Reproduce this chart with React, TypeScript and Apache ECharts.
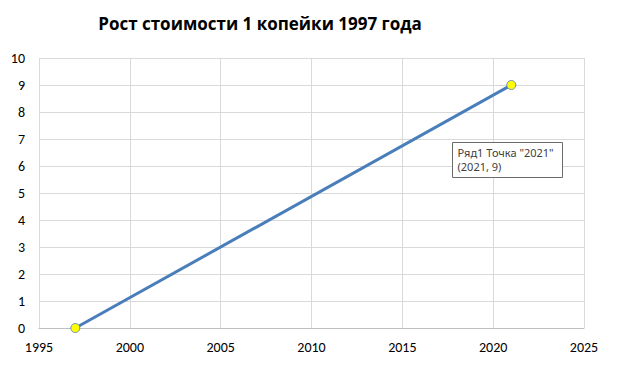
import React, { useEffect, useRef } from "react";
import * as echarts from "echarts";

const titleText = "Рост стоимости 1 копейки 1997 года";
const seriesName = "Ряд1";
const years = [1997, 2021];
const values = [0, 9];
const tooltipLines = ['Ряд1 Точка "2021"', "(2021, 9)"];

export default function App() {
  const ref = useRef<HTMLDivElement>(null);
  useEffect(() => {
    const chart = echarts.init(ref.current!, undefined, { renderer: "svg" });
    const labelFont = "Carlito, 'Liberation Sans', 'Open Sans', sans-serif";
    chart.setOption({
      animation: false,
      backgroundColor: "#ffffff",
      title: {
        text: titleText,
        left: 255,
        top: 10,
        textAlign: "center",
        textStyle: {
          fontFamily: "'Open Sans', 'Liberation Sans', sans-serif",
          fontWeight: "bold",
          fontSize: 17,
          color: "#000000",
        },
      },
      grid: { left: 39, right: 34, top: 58, bottom: 40, containLabel: false },
      xAxis: {
        type: "value",
        min: 1995,
        max: 2025,
        interval: 5,
        axisLine: { show: true, lineStyle: { color: "#bfbfbf", width: 1 } },
        axisTick: { show: false },
        splitLine: { show: true, lineStyle: { color: "#d9d9d9", width: 1 } },
        axisLabel: {
          color: "#000000",
          fontSize: 14,
          fontFamily: labelFont,
          margin: 12,
          formatter: (v: number) => String(v),
        },
      },
      yAxis: {
        type: "value",
        min: 0,
        max: 10,
        interval: 1,
        axisLine: { show: false },
        axisTick: { show: false },
        splitLine: { show: true, lineStyle: { color: "#d9d9d9", width: 1 } },
        axisLabel: {
          color: "#000000",
          fontSize: 14,
          fontFamily: labelFont,
          margin: 14,
        },
      },
      series: [
        {
          name: seriesName,
          type: "line",
          data: years.map((y, i) => [y, values[i]]),
          lineStyle: { color: "#4a7ebb", width: 3 },
          symbol: "circle",
          symbolSize: 9,
          itemStyle: { color: "#ffff00", borderColor: "#6f8fb8", borderWidth: 1 },
          z: 3,
        },
      ],
      graphic: [
        {
          type: "group",
          left: 452,
          top: 142,
          z: 100,
          children: [
            {
              type: "rect",
              z: 100,
              shape: { x: 0, y: 0, width: 110, height: 35 },
              style: { fill: "#ffffff", stroke: "#6b6b6b", lineWidth: 1 },
            },
            {
              type: "text",
              z: 101,
              x: 5,
              y: 3,
              style: {
                text: tooltipLines.join("\n"),
                fill: "#404040",
                fontSize: 11,
                lineHeight: 14,
                verticalAlign: "top",
                align: "left",
                fontFamily: "'Noto Sans', 'DejaVu Sans', sans-serif",
              },
            },
          ],
        },
      ],
    });
    return () => chart.dispose();
  }, []);
  return <div ref={ref} style={{ width: 618, height: 368, position: "absolute", left: 0, top: 0 }} />;
}
